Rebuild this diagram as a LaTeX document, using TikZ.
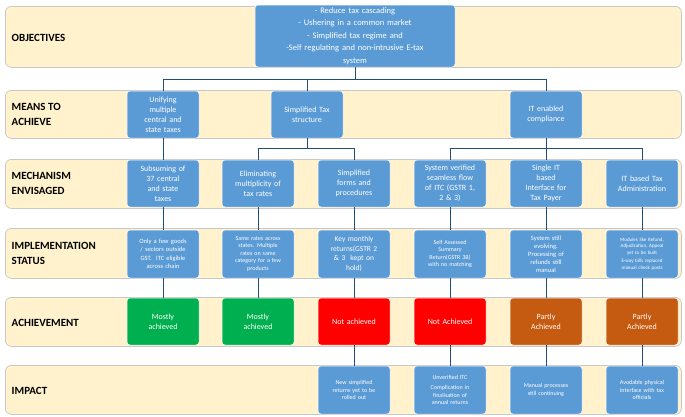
\documentclass[tikz,border=0pt]{standalone}
\usepackage{fontspec}
\setmainfont{Carlito}
\definecolor{bandfill}{RGB}{255,242,204}
\definecolor{bandline}{RGB}{200,200,200}
\definecolor{boxblue}{RGB}{91,155,213}
\definecolor{boxgreen}{RGB}{0,176,80}
\definecolor{boxred}{RGB}{255,0,0}
\definecolor{boxorange}{RGB}{197,90,17}
\definecolor{linkblue}{RGB}{31,78,121}
\tikzset{every picture/.style={line width=0.75pt}}
\tikzset{
  band/.style={draw=bandline, fill=bandfill, rounded corners=6pt, minimum width=676pt, anchor=north west, inner sep=0pt},
  bandlabel/.style={anchor=west, font=\bfseries\fontsize{11}{13}\selectfont, align=left, text=black},
  box/.style={draw=white, line width=0.5pt, fill=boxblue, rounded corners=3pt, text=white, align=center, minimum width=72pt, text width=68pt, inner sep=1pt, font=\fontsize{8}{10}\selectfont},
  small/.style={font=\fontsize{6}{7.5}\selectfont},
  link/.style={draw=linkblue, line width=1pt}
}
\begin{document}
\begin{tikzpicture}[x=1pt,y=1pt,yscale=-1,xscale=1]
\useasboundingbox (0,0) rectangle (685,416);

% Bands
\node [band, minimum height=61pt] (bobj) at (5,6) {};
\node [band, minimum height=48pt] (bmean) at (5,90) {};
\node [band, minimum height=49pt] (bmech) at (5,159) {};
\node [band, minimum height=50pt] (bimpl) at (5,228) {};
\node [band, minimum height=49pt] (bach) at (5,297) {};
\node [band, minimum height=49pt] (bimp) at (5,365) {};

% Band labels
\node [bandlabel] (lobj) at (8,38) {OBJECTIVES};
\node [bandlabel] (lmean) at (8,114) {MEANS TO\\[2pt]ACHIEVE};
\node [bandlabel] (lmech) at (8,183) {MECHANISM\\[2pt]ENVISAGED};
\node [bandlabel] (limpl) at (8,253) {IMPLEMENTATION\\[2pt]STATUS};
\node [bandlabel] (lach) at (8,323) {ACHIEVEMENT};
\node [bandlabel] (limp) at (8,391) {IMPACT};

% Objectives
\node [box, minimum width=200pt, text width=196pt, minimum height=62pt, font=\fontsize{8.5}{12.5}\selectfont] (obj) at (355,36) {- Reduce tax cascading\\- Ushering in a common market\\- Simplified tax regime and\\-Self regulating and non-intrusive E-tax\\system};

% Means to achieve
\node [box, minimum height=47pt] (mean1) at (163,114.5) {Unifying\\multiple\\central and\\state taxes};
\node [box, minimum height=47pt] (mean2) at (307,114.5) {Simplified Tax\\structure};
\node [box, minimum height=47pt] (mean3) at (546,114.5) {IT enabled\\compliance};

% Mechanism envisaged
\node [box, minimum height=47pt] (mech1) at (163,183.5) {Subsuming of\\37 central\\and state\\taxes};
\node [box, minimum height=47pt] (mech2) at (258,183.5) {Eliminating\\multiplicity of\\tax rates};
\node [box, minimum height=47pt] (mech3) at (354,183.5) {Simplified\\forms and\\procedures};
\node [box, minimum height=47pt] (mech4) at (450,183.5) {System verified\\seamless flow\\of ITC (GSTR 1,\\2 \& 3)};
\node [box, minimum height=47pt] (mech5) at (546,183.5) {Single IT\\based\\Interface for\\Tax Payer};
\node [box, minimum height=47pt] (mech6) at (642,183.5) {IT based Tax\\Administration};

% Implementation status
\node [box, minimum height=48pt, font=\fontsize{6.5}{8.5}\selectfont] (impl1) at (163,254) {Only a few goods\\/ sectors outside\\GST.\ \ ITC eligible\\across chain};
\node [box, minimum height=48pt, small] (impl2) at (258,254) {Same rates across\\states. Multiple\\rates on same\\category for a few\\products};
\node [box, minimum height=48pt, font=\fontsize{7.5}{9.5}\selectfont] (impl3) at (354,254) {Key monthly\\returns(GSTR 2\\\& 3\ \ kept on\\hold)};
\node [box, minimum height=48pt, small] (impl4) at (450,254) {Self Assessed\\Summary\\Return(GSTR 3B)\\with no matching};
\node [box, minimum height=48pt, font=\fontsize{6.5}{8}\selectfont] (impl5) at (546,254) {System still\\evolving.\\Processing of\\refunds still\\manual};
\node [box, minimum height=48pt, font=\fontsize{5}{6.5}\selectfont] (impl6) at (642,254) {Modules like Refund,\\Adjudication, Appeal\\yet to be built\\[2pt]E-way bills replaced\\manual check posts};

% Achievement
\node [box, minimum height=47pt, fill=boxgreen] (ach1) at (163,321.5) {Mostly\\achieved};
\node [box, minimum height=47pt, fill=boxgreen] (ach2) at (258,321.5) {Mostly\\achieved};
\node [box, minimum height=47pt, fill=boxred] (ach3) at (354,321.5) {Not achieved};
\node [box, minimum height=47pt, fill=boxred] (ach4) at (450,321.5) {Not Achieved};
\node [box, minimum height=47pt, fill=boxorange] (ach5) at (546,321.5) {Partly\\Achieved};
\node [box, minimum height=47pt, fill=boxorange] (ach6) at (642,321.5) {Partly\\Achieved};

% Impact
\node [box, minimum height=48pt, small] (imp3) at (354,390) {New simplified\\returns yet to be\\rolled out};
\node [box, minimum height=48pt, small] (imp4) at (450,390) {Unverified ITC\\[3pt]Complication in\\finalisation of\\annual returns};
\node [box, minimum height=48pt, small] (imp5) at (546,390) {Manual processes\\still continuing};
\node [box, minimum height=48pt, small] (imp6) at (642,390) {Avodable physical\\interface with tax\\officials};

% Connectors
\coordinate (jobj) at (355,79);
\draw [link] (obj.south) -- (jobj);
\draw [link] (jobj) -| (mean1.north);
\draw [link] (jobj) -| (mean2.north);
\draw [link] (jobj) -| (mean3.north);
\draw [link] (mean1.south) -- (mech1.north);
\coordinate (jmean2) at (307,148);
\coordinate (jmean3) at (546,148);
\draw [link] (mean2.south) -- (jmean2);
\draw [link] (jmean2) -| (mech2.north);
\draw [link] (jmean2) -| (mech3.north);
\draw [link] (mean3.south) -- (jmean3);
\draw [link] (jmean3) -| (mech4.north);
\draw [link] (jmean3) -| (mech5.north);
\draw [link] (jmean3) -| (mech6.north);
\foreach \i in {1,...,6} {
  \draw [link] (mech\i.south) -- (impl\i.north);
  \draw [link] (impl\i.south) -- (ach\i.north);
}
\foreach \i in {3,...,6}
  \draw [link] (ach\i.south) -- (imp\i.north);

\end{tikzpicture}
\end{document}
